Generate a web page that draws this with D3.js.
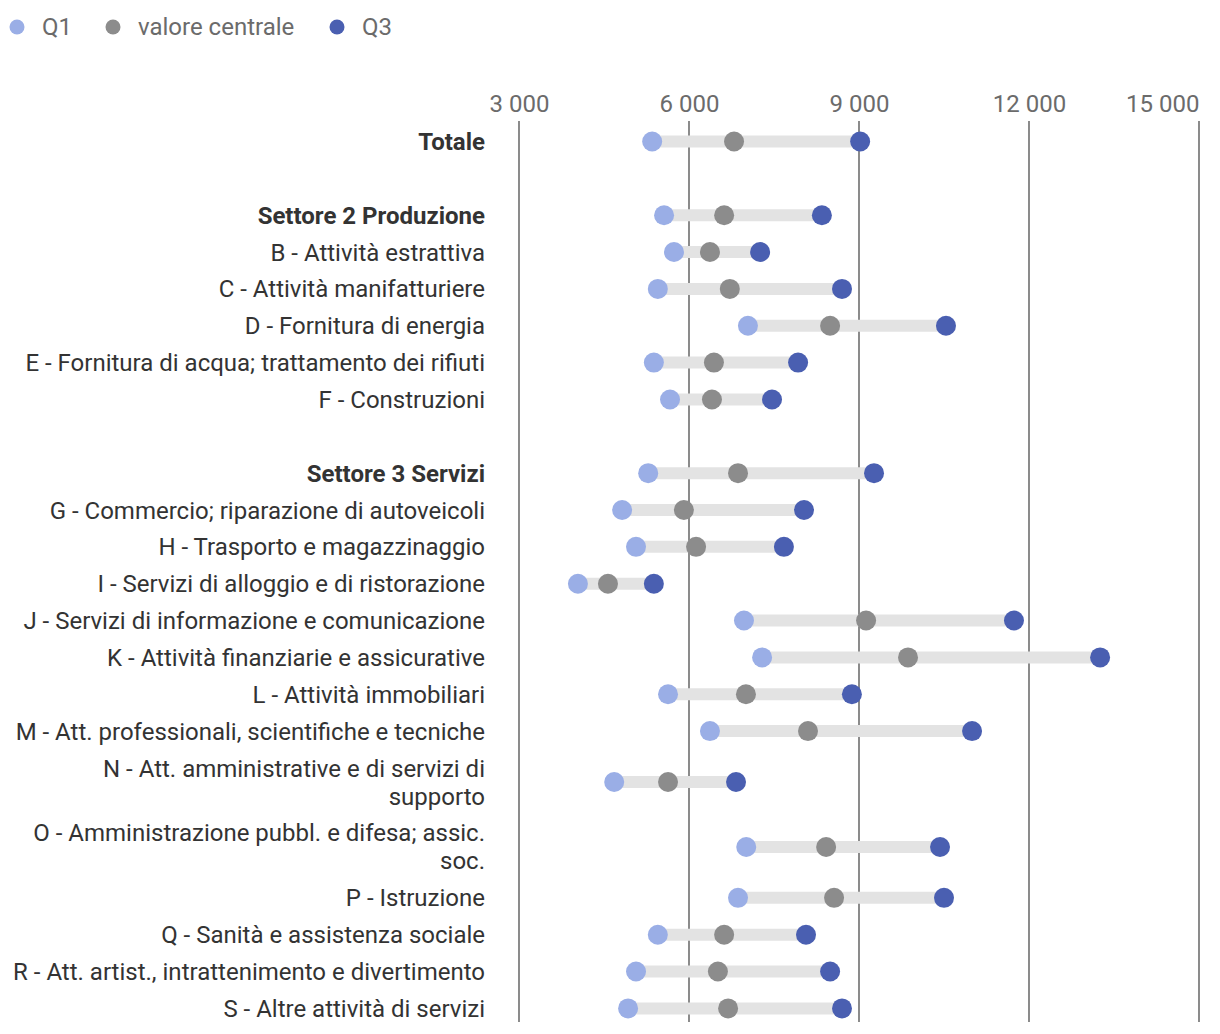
<!DOCTYPE html>
<html><head><meta charset="utf-8">
<script src="https://cdn.jsdelivr.net/npm/d3@7"></script>
<style>
html,body{margin:0;padding:0;background:#fff;}
svg{display:block;font-family:Roboto, "Noto Sans", sans-serif;}
</style></head>
<body><svg id="chart" width="1220" height="1034"></svg>
<script>
// ---- data ----
const categories = [
  "Totale", "",
  "Settore 2 Produzione",
  "B - Attività estrattiva",
  "C - Attività manifatturiere",
  "D - Fornitura di energia",
  "E - Fornitura di acqua; trattamento dei rifiuti",
  "F - Construzioni", "",
  "Settore 3 Servizi",
  "G - Commercio; riparazione di autoveicoli",
  "H - Trasporto e magazzinaggio",
  "I - Servizi di alloggio e di ristorazione",
  "J - Servizi di informazione e comunicazione",
  "K - Attività finanziarie e assicurative",
  "L - Attività immobiliari",
  "M - Att. professionali, scientifiche e tecniche",
  "N - Att. amministrative e di servizi di supporto",
  "O - Amministrazione pubbl. e difesa; assic. soc.",
  "P - Istruzione",
  "Q - Sanità e assistenza sociale",
  "R - Att. artist., intrattenimento e divertimento",
  "S - Altre attività di servizi"
];
const boldCategories = ["Totale", "Settore 2 Produzione", "Settore 3 Servizi"];
const q1 =     [5350, null, 5560, 5735, 5450, 7040, 5380, 5665, null, 5280, 4820, 5065, 4040, 6970, 7290, 5630, 6370, 4680, 7010, 6865, 5450, 5065, 4925];
const median = [6795, null, 6620, 6370, 6720, 8490, 6440, 6405, null, 6865, 5910, 6125, 4570, 9125, 9865, 7005, 8100, 5630, 8420, 8560, 6620, 6510, 6690];
const q3 =     [9020, null, 8345, 7255, 8700, 10535, 7925, 7465, null, 9265, 8030, 7675, 5380, 11735, 13255, 8875, 10995, 6830, 10430, 10500, 8065, 8490, 8700];
const tickValues = [3000, 6000, 9000, 12000, 15000];
const seriesNames = ["Q1", "valore centrale", "Q3"];
const seriesColors = ["#9aaee6", "#8c8c8c", "#4a5fb1"];

// ---- layout ----
const svg = d3.select("#chart");
const FS = 24;
const labelRight = 485, labelMaxW = 474;
const x = d3.scaleLinear().domain([3000, 15000]).range([519, 1199]);
const fmt = v => d3.format(",")(v).replace(/,/g, " ");

// legend
const legendX = [17, 113, 337];
seriesNames.forEach((n, i) => {
  svg.append("circle").attr("cx", legendX[i]).attr("cy", 27).attr("r", 7.5).attr("fill", seriesColors[i]);
  svg.append("text").attr("x", legendX[i] + 25).attr("y", 35).attr("font-size", FS)
    .attr("fill", "#6b6b6b").text(n);
});

// wrap labels
const measure = svg.append("text").attr("font-size", FS).attr("visibility", "hidden");
function wrap(str, bold) {
  measure.attr("font-weight", bold ? 700 : 400);
  const words = str.split(" ");
  const lines = []; let cur = "";
  words.forEach(w => {
    const t = cur ? cur + " " + w : w;
    measure.text(t);
    if (measure.node().getComputedTextLength() > labelMaxW && cur) { lines.push(cur); cur = w; }
    else cur = t;
  });
  if (cur) lines.push(cur);
  return lines;
}
const rowH = 36.85, extraLine = 28.1, lineH = 28;
let yCur = 141.5 - rowH / 2;
const rows = categories.map((c, i) => {
  const bold = boldCategories.includes(c);
  const lines = c ? wrap(c, bold) : [];
  const h = rowH + Math.max(0, lines.length - 1) * extraLine;
  const cy = yCur + h / 2;
  yCur += h;
  return {c, bold, lines, cy, i};
});
measure.remove();

// grid + axis
const axis = d3.axisTop(x).tickValues(tickValues).tickFormat(fmt).tickSize(0).tickPadding(0);
const gAxis = svg.append("g").attr("transform", "translate(0,112)").call(axis);
gAxis.select(".domain").remove();
gAxis.selectAll("text").attr("font-size", FS).attr("fill", "#6b6b6b").attr("font-family", "Roboto, sans-serif")
  .attr("text-anchor", (d, i) => i === tickValues.length - 1 ? "end" : "middle");
const gGrid = svg.append("g");
gGrid.selectAll("line").data(tickValues).join("line")
  .attr("x1", d => x(d)).attr("x2", d => x(d)).attr("y1", 121).attr("y2", 1022)
  .attr("stroke", "#6f6f6f").attr("stroke-width", 1.6);

// labels
rows.forEach(r => {
  if (!r.c) return;
  const t = svg.append("text").attr("text-anchor", "end").attr("font-size", FS)
    .attr("font-weight", r.bold ? 700 : 400).attr("fill", "#333");
  const n = r.lines.length;
  r.lines.forEach((l, k) => {
    t.append("tspan").attr("x", labelRight)
      .attr("y", r.cy + (k - (n - 1) / 2) * lineH + 8.5).text(l);
  });
});

// ranges and dots
const valid = rows.filter(r => r.c);
svg.append("g").selectAll("line").data(valid).join("line")
  .attr("x1", r => x(q1[r.i])).attr("x2", r => x(q3[r.i]))
  .attr("y1", r => r.cy).attr("y2", r => r.cy)
  .attr("stroke", "#e3e3e3").attr("stroke-width", 12);
[q1, median, q3].forEach((s, si) => {
  svg.append("g").selectAll("circle").data(valid).join("circle")
    .attr("cx", r => x(s[r.i])).attr("cy", r => r.cy).attr("r", 10)
    .attr("fill", seriesColors[si]);
});
</script></body></html>
